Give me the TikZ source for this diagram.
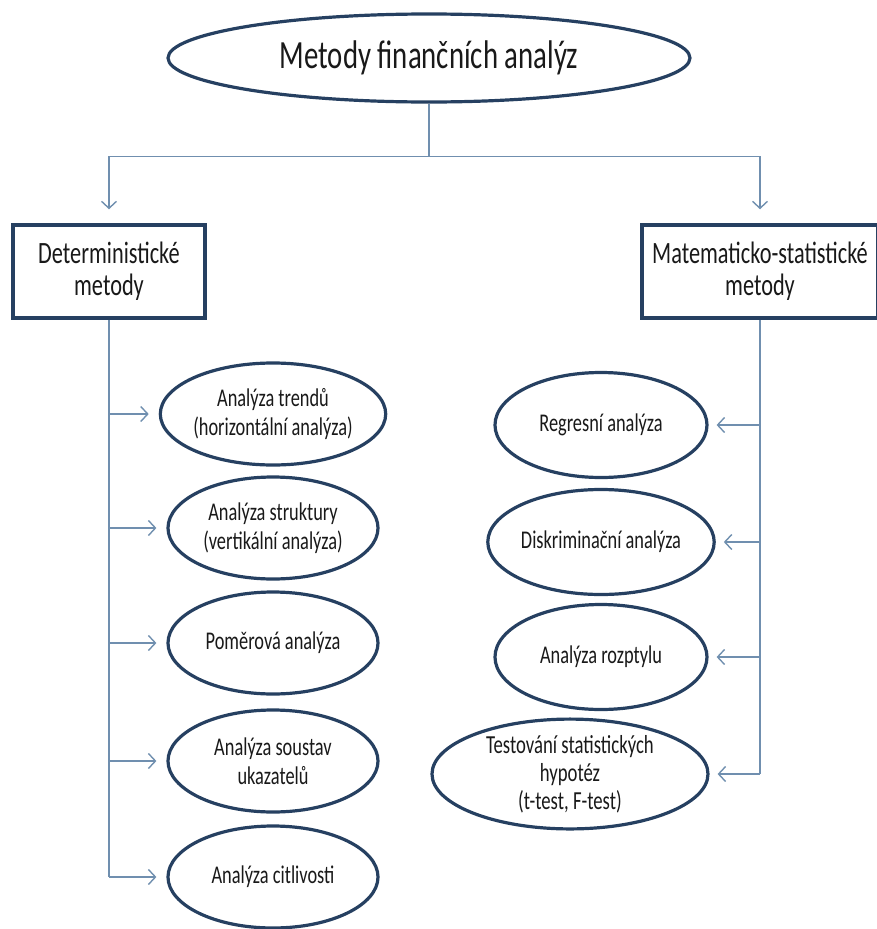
\documentclass[tikz,border=0pt]{standalone}
\usepackage{fontspec}
\setmainfont{Carlito}[FakeStretch=0.72]
\usetikzlibrary{positioning,shapes.geometric,arrows.meta}

\definecolor{navy}{RGB}{38,64,97}
\definecolor{linkgray}{RGB}{112,143,175}
\definecolor{ink}{RGB}{25,25,25}

\begin{document}
\begin{tikzpicture}[x=1pt,y=-1pt,
    oval/.style={draw=navy,line width=3.2pt,ellipse,inner sep=0pt,align=center,
        minimum width=210pt,minimum height=102pt,text=ink,
        font=\fontsize{25.5}{29}\selectfont},
    group/.style={draw=navy,line width=3.5pt,inner sep=0pt,align=center,
        minimum height=93pt,text=ink,font=\fontsize{31}{32}\selectfont},
    link/.style={draw=linkgray,line width=1.4pt},
    tip/.style={-{Straight Barb[length=7pt,width=15pt]}}]
    \useasboundingbox (0,0) rectangle (876,929);

    \node[oval,minimum width=522pt,minimum height=88pt,font=\fontsize{40}{42}\selectfont] (title) at (429,58) {Metody finančních analýz};

    \node[group,minimum width=192pt] (det) at (109,271.5) {Deterministické\\metody};
    \node[group,minimum width=236pt] (mat) at (760,271.5) {Matematicko-statistické\\metody};

    % left branch
    \node[oval] (a1) at (273,414) {Analýza trendů\\(horizontální analýza)};
    \node[oval] (a2) at (273,528) {Analýza struktury\\(vertikální analýza)};
    \node[oval] (a3) at (273,643) {Poměrová analýza};
    \node[oval] (a4) at (273,761) {Analýza soustav\\ukazatelů};
    \node[oval] (a5) at (273,877) {Analýza citlivosti};

    % right branch
    \node[oval,minimum width=212pt,minimum height=105pt] (b1) at (601,425) {Regresní analýza};
    \node[oval,minimum width=212pt,minimum height=105pt] (b2) at (601,542) {Diskriminační analýza};
    \node[oval,minimum width=212pt,minimum height=105pt] (b3) at (601,657) {Analýza rozptylu};
    \node[oval,minimum width=276pt,minimum height=106pt,font=\fontsize{26}{28}\selectfont] (b4) at (570,774) {Testování statistických\\hypotéz\\(t-test, F-test)};

    \draw[link] (title.south) -- ++(0,53) coordinate (split);
    \draw[link,tip,shorten >=14pt] (split) -| (det.north);
    \draw[link,tip,shorten >=14pt] (split) -| (mat.north);

    \draw[link] (det.south) -- (det.south |- a5.west);
    \foreach \n in {a1,a2,a3,a4,a5}
        \draw[link,tip,shorten >=10pt] (det.south |- \n.west) -- (\n.west);

    \draw[link] (mat.south) -- (mat.south |- b4.east);
    \foreach \n in {b1,b2,b3,b4}
        \draw[link,tip,shorten >=8pt] (mat.south |- \n.east) -- (\n.east);
\end{tikzpicture}
\end{document}
